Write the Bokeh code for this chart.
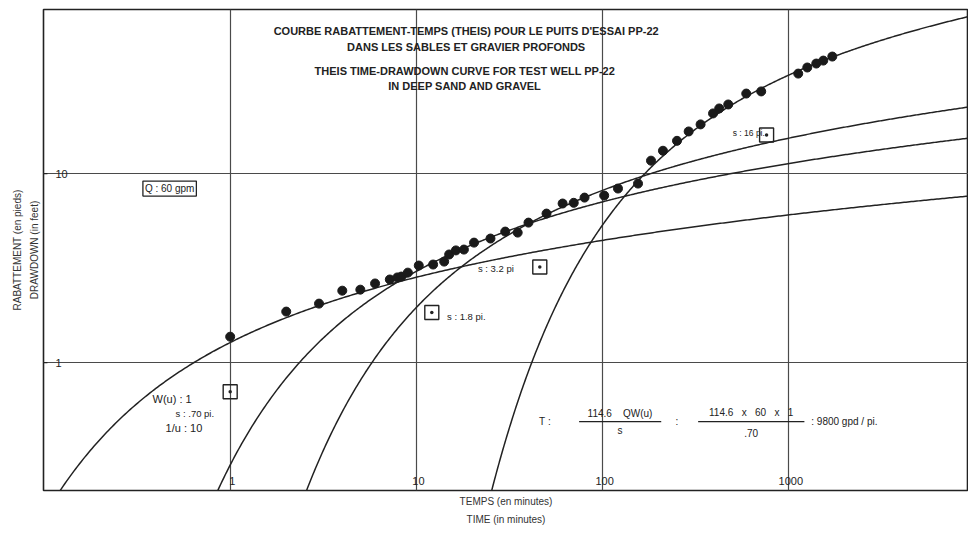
import numpy as np
from bokeh.plotting import figure
from bokeh.models import Title, Label, FixedTicker
from bokeh.core.properties import value
from bokeh.embed import file_html
from bokeh.resources import INLINE

# ---------------- data ----------------
time_min = [1.0, 2.0, 3.0, 4.0, 5.0, 6.0, 7.2, 7.9, 8.3, 9.0,
            10.3, 12.3, 14.1, 15.0, 16.3, 18.0, 20.4, 25.0, 30.0, 35.0,
            40.0, 50.0, 61.0, 70.0, 80.0, 102.0, 121.0, 155.0, 182.0, 211.0,
            251.0, 290.0, 336.0, 392.0, 423.0, 473.0, 591.0, 711.0, 1124.0, 1257.0,
            1405.0, 1532.0, 1713.0]
drawdown_ft = [1.37, 1.86, 2.05, 2.40, 2.43, 2.62, 2.75, 2.82, 2.85, 2.99,
               3.26, 3.30, 3.42, 3.73, 3.92, 3.96, 4.31, 4.53, 4.93, 4.87,
               5.50, 6.14, 6.94, 7.00, 7.46, 7.65, 8.33, 8.85, 11.7, 13.2,
               14.9, 16.7, 18.2, 20.8, 22.1, 23.2, 26.5, 27.2, 33.8, 36.4,
               38.2, 39.6, 41.6]

# Theis match points (W(u)=1, 1/u=10) for each fitted type curve
match_t = [1.0, 12.1, 46.0, 760.0]
match_s = [0.70, 1.84, 3.2, 16.0]

x_ticks = [1, 10, 100, 1000]
x_tick_labels = ["1", "10", "100", "1000"]
y_ticks = [1, 10]
y_tick_labels = ["1", "10"]

X_RANGE = (0.0994, 9230)
Y_RANGE = (0.2103, 73.8)

FONT = "Liberation Sans"
INK = "#222222"
NB = "\u00a0"


def well_function(u):
    u = np.asarray(u, dtype=float)
    total = np.zeros_like(u)
    term = np.ones_like(u)
    for k in range(1, 90):
        term = term * (-u) / k
        total += term / k
    return -0.5772156649 - np.log(u) - total


p = figure(width=968, height=532, x_axis_type="log", y_axis_type="log",
           x_range=X_RANGE, y_range=Y_RANGE,
           output_backend="svg", toolbar_location=None,
           min_border_left=43, min_border_right=0, min_border_top=9,
           min_border_bottom=42)
p.xaxis.visible = False
p.yaxis.visible = False
p.outline_line_color = INK
p.outline_line_width = 1.6
p.xgrid.ticker = FixedTicker(ticks=x_ticks)
p.ygrid.ticker = FixedTicker(ticks=y_ticks)
p.grid.grid_line_color = "#4a4a4a"
p.grid.grid_line_width = 1.2
p.grid.grid_line_alpha = 1.0
p.background_fill_color = "white"
p.border_fill_color = "white"

# ---------- Theis type curves ----------
for tm, sm in zip(match_t, match_s):
    t = np.logspace(np.log10(tm / 60.0), np.log10(12000), 600)
    u = tm / (10.0 * t)
    s = sm * well_function(u)
    keep = s > 0.12
    p.line(t[keep], s[keep], line_color=INK, line_width=1.5)

# ---------- observed drawdown ----------
p.scatter(time_min, drawdown_ft, size=9, marker="circle",
          fill_color="#1a1a1a", line_color="#1a1a1a")

# ---------- match point squares ----------
p.scatter(match_t, match_s, size=14, marker="square_dot",
          fill_color=None, line_color=INK, line_width=1.4)

# ---------- tick labels inside frame ----------
p.text(x=x_ticks, y=[Y_RANGE[0]] * len(x_ticks), text=x_tick_labels,
       x_offset=2, y_offset=-10, text_align="center", text_baseline="middle",
       text_font=value(FONT), text_font_size="11px", text_color=INK)
p.text(x=[X_RANGE[0]] * len(y_ticks), y=y_ticks, text=y_tick_labels,
       x_offset=12, y_offset=0, text_align="left", text_baseline="middle",
       text_font=value(FONT), text_font_size="11px", text_color=INK)
p.segment(x0=[X_RANGE[0]] * len(y_ticks), y0=y_ticks,
          x1=[X_RANGE[0] * 1.05] * len(y_ticks), y1=y_ticks,
          line_color=INK, line_width=1.2)

# ---------- headings ----------
heads = [("COURBE RABATTEMENT-TEMPS (THEIS) POUR LE PUITS D'ESSAI PP-22", 18.5, 57.0),
         ("DANS LES SABLES ET GRAVIER PROFONDS", 18.5, 47.0),
         ("THEIS TIME-DRAWDOWN CURVE FOR TEST WELL PP-22", 18.2, 35.0),
         ("IN DEEP SAND AND GRAVEL", 18.2, 28.9)]
for txt, x, y in heads:
    p.add_layout(Label(x=x, y=y, text=txt, text_align="center",
                       text_baseline="middle", text_font=FONT,
                       text_font_size="11px", text_font_style="bold",
                       text_color=INK))

# ---------- annotations ----------
def note(txt, x, y, align="left", size="10px", **kw):
    p.add_layout(Label(x=x, y=y, text=txt.replace(" ", NB), text_align=align,
                       text_baseline="middle", text_font=FONT,
                       text_font_size=size, text_color=INK, **kw))

note("Q : 60 gpm", 0.473, 8.33, align="center", size="10px",
     border_line_color=INK, border_line_width=1.3, padding=2)
note("W(u) : 1", 0.383, 0.645, size="11px")
note("s : .70 pi.", 0.509, 0.537, size="9.5px")
note("1/u : 10", 0.45, 0.448, size="11px")
note("s : 1.8 pi.", 14.6, 1.75, size="9.5px")
note("s : 3.2 pi", 21.4, 3.14, size="9.5px")
note("s : 16 pi.", 500, 16.3, size="8.5px")

note("T :", 45.6, 0.487)
note("114.6    QW(u)", 124, 0.540, align="center")
note("s", 124, 0.437, align="center")
note(":", 251, 0.487, align="center")
note("114.6   x   60   x   1", 628, 0.544, align="center")
note(".70", 628, 0.426, align="center")
note(": 9800 gpd / pi.", 1321, 0.487)
p.segment(x0=[74.8, 326], y0=[0.487, 0.487], x1=[206.5, 1213], y1=[0.487, 0.487],
          line_color=INK, line_width=1.2)

# ---------- axis titles ----------
p.add_layout(Title(text="TEMPS (en minutes)", align="center", text_font=FONT,
                   text_font_size="10px", text_font_style="normal",
                   text_color="#333333", standoff=7, offset=0), "below")
p.add_layout(Title(text="TIME (in minutes)", align="center", text_font=FONT,
                   text_font_size="10px", text_font_style="normal",
                   text_color="#333333", standoff=3, offset=0), "below")
p.add_layout(Title(text="DRAWDOWN (in feet)", align="center", text_font=FONT,
                   text_font_size="10px", text_font_style="normal",
                   text_color="#333333", standoff=8, offset=0), "left")
p.add_layout(Title(text="RABATTEMENT (en pieds)", align="center", text_font=FONT,
                   text_font_size="10px", text_font_style="normal",
                   text_color="#333333", standoff=0, offset=0), "left")

open("out.html", "w").write(file_html(p, INLINE))
